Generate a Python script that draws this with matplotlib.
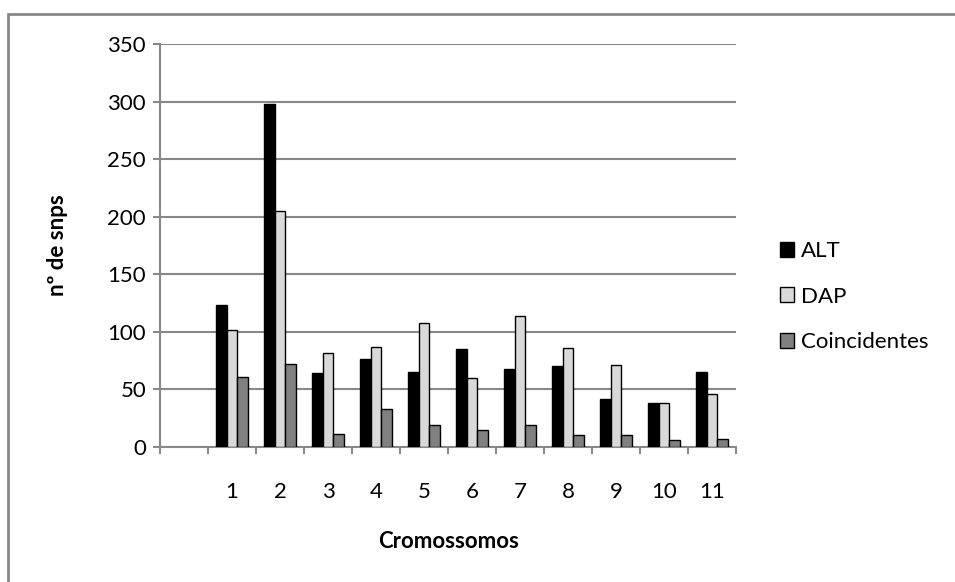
import matplotlib
matplotlib.use('Agg')
import matplotlib.pyplot as plt
from matplotlib.patches import Patch, Rectangle
import numpy as np

plt.rcParams['font.family'] = ['Lato', 'DejaVu Sans']

# first category is left blank in the original sheet
categorias = ['', '1', '2', '3', '4', '5', '6', '7', '8', '9', '10', '11']
alt = [123, 298, 64, 76, 65, 85, 68, 70, 42, 38, 65]
dap = [102, 205, 82, 87, 108, 60, 114, 86, 71, 38, 46]
coincidentes = [61, 72, 11, 33, 19, 15, 19, 10, 10, 6, 7]
series = [('ALT', alt, 'black'), ('DAP', dap, '#d9d9d9'),
          ('Coincidentes', coincidentes, '#808080')]

W, H = 955, 582
fig = plt.figure(figsize=(W / 100, H / 100), dpi=100)
ax = fig.add_axes([160 / W, (H - 447) / H, (736 - 160) / W, (447 - 44) / H])

grid_c = '#888888'
x = np.arange(1, len(categorias))
bw = 0.22
for i, (nome, vals, cor) in enumerate(series):
    ax.bar(x + (i - 1) * bw, vals, bw, color=cor, edgecolor='black', linewidth=1, zorder=3)

ax.set_xlim(-0.5, len(categorias) - 0.5)
ax.set_ylim(0, 350)
ax.set_yticks(np.arange(0, 351, 50))
ax.yaxis.grid(True, color=grid_c, linewidth=1.5, zorder=0)
ax.set_axisbelow(True)

ax.set_xticks(np.arange(len(categorias)))
ax.set_xticklabels(categorias)
ax.set_xticks(np.arange(-0.5, len(categorias)), minor=True)
ax.tick_params(axis='x', which='major', length=0, pad=25, labelsize=16)
ax.tick_params(axis='x', which='minor', length=5, width=1.5, color=grid_c, direction='out')
ax.tick_params(axis='y', length=5, width=1.5, color=grid_c, direction='out', labelsize=16, pad=5)

for s in ['top', 'right']:
    ax.spines[s].set_visible(False)
for s in ['left', 'bottom']:
    ax.spines[s].set_color(grid_c)
    ax.spines[s].set_linewidth(1.5)

fig.text(449 / W, 1 - 541 / H, 'Cromossomos', fontsize=16, fontweight='bold',
         ha='center', va='center')
fig.text(58 / W, 1 - 245 / H, 'nº de snps', fontsize=16, fontweight='bold',
         ha='center', va='center', rotation=90)

handles = [Patch(facecolor=c, edgecolor='black', linewidth=1) for _, _, c in series]
fig.legend(handles, [n for n, _, _ in series], loc='upper left',
           bbox_to_anchor=(780 / W, 1 - 241 / H), frameon=False, fontsize=16,
           borderpad=0, borderaxespad=0, handlelength=0.65, handleheight=0.65,
           handletextpad=0.3, labelspacing=1.15)

# outer chart frame, cut off on the right and bottom
fig.add_artist(Rectangle((8 / W, -0.1), 1.2, 1.1 - 14 / H, transform=fig.transFigure,
                         fill=False, edgecolor=grid_c, linewidth=2, clip_on=False))

fig.savefig('out.png', dpi=100)
